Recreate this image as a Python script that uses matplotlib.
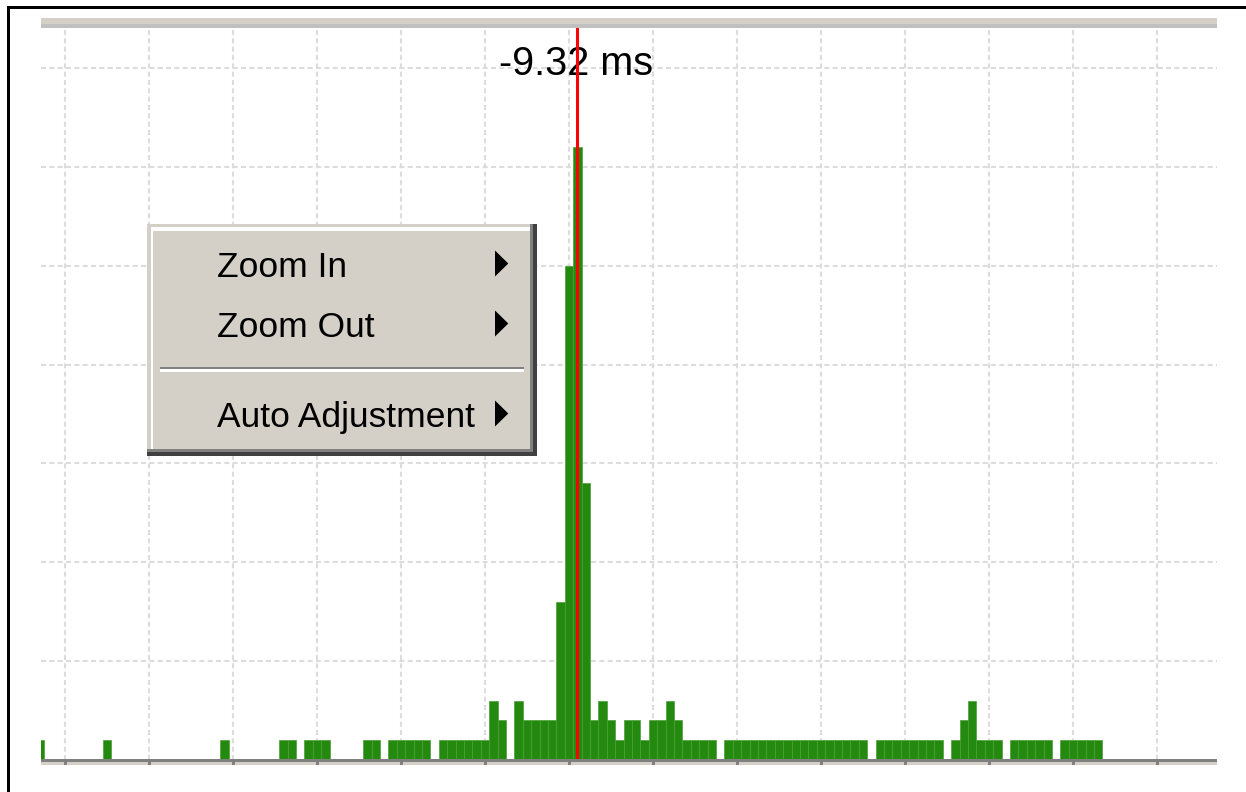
import matplotlib
matplotlib.use("Agg")
import matplotlib.pyplot as plt
from matplotlib.patches import Rectangle, Polygon
import matplotlib.transforms as mtransforms

W, H = 1246, 792

# ---------------- data ----------------
bin_pos = [4, 12, 26, 33, 34, 36, 37, 38, 43, 44, 46, 47, 48, 49, 50,
           52, 53, 54, 55, 56, 57, 58, 59, 61, 62, 63, 64, 65, 66, 67, 68, 69,
           70, 71, 72, 73, 74, 75, 76, 77, 78, 79, 80, 81, 82, 83, 84,
           86, 87, 88, 89, 90, 91, 92, 93, 94, 95, 96, 97, 98, 99, 100, 101, 102,
           104, 105, 106, 107, 108, 109, 110, 111,
           113, 114, 115, 116, 117, 118,
           120, 121, 122, 123, 124,
           126, 127, 128, 129, 130]
counts = [1, 1, 1, 1, 1, 1, 1, 1, 1, 1, 1, 1, 1, 1, 1,
          1, 1, 1, 1, 1, 1, 3, 2, 3, 2, 2, 2, 2, 8, 25, 31, 14,
          2, 3, 2, 1, 2, 2, 1, 2, 2, 3, 2, 1, 1, 1, 1,
          1, 1, 1, 1, 1, 1, 1, 1, 1, 1, 1, 1, 1, 1, 1, 1, 1,
          1, 1, 1, 1, 1, 1, 1, 1,
          1, 2, 3, 1, 1, 1,
          1, 1, 1, 1, 1,
          1, 1, 1, 1, 1]
x_range = (4.631, 144.631)
y_max = 37.03
x_grid = [7.5 + 10 * j for j in range(14)]
y_grid = [5, 10, 15, 20, 25, 30, 35]
cursor_x = 68.48
cursor_label = "-9.32 ms"
menu_items = ["Zoom In", "Zoom Out", "Auto Adjustment"]

FONT = ["Liberation Sans", "DejaVu Sans"]

fig = plt.figure(figsize=(W / 100, H / 100), dpi=100)
fig.patch.set_facecolor("white")


def fx(x):
    return x / W


def fy(y):
    return 1 - y / H


def px_rect(x0, y0, x1, y1, color, z=5):
    fig.add_artist(Rectangle((fx(x0), fy(y1)), (x1 - x0) / W, (y1 - y0) / H,
                             transform=fig.transFigure, facecolor=color,
                             edgecolor="none", zorder=z))


ax = fig.add_axes([fx(41), fy(760), 1176 / W, 732 / H])
ax.set_xlim(*x_range)
ax.set_ylim(0, y_max)
for s in ax.spines.values():
    s.set_visible(False)
ax.set_xticks([])
ax.set_yticks([])
ax.patch.set_alpha(0)

grid_kw = dict(color="#DCDCDC", lw=1.5, dashes=(2.4, 1.6), zorder=0.5)
for g in x_grid:
    ax.axvline(g, **grid_kw)
for g in y_grid:
    ax.axhline(g, **grid_kw)

ax.bar(bin_pos, counts, width=1, align="edge", color="#238A0F",
       edgecolor="#4C9E38", linewidth=0.5, zorder=2)

ax.text(cursor_x - 0.1, (760 - 75) / (732 / y_max), cursor_label, ha="center",
        va="baseline", fontsize=28.5, family=FONT, color="black", zorder=3)
ax.axvline(cursor_x, color="#FF0000", lw=2.2, zorder=4)

# top band
px_rect(41, 18, 1217, 24, "#D4D0C8")
px_rect(41, 24, 1217, 28, "#C0C0C0")
# bottom axis line and band
px_rect(41, 759, 1217, 762, "#808080")
px_rect(41, 762, 1217, 765, "#D4D0C8")
btr = mtransforms.blended_transform_factory(ax.transData, fig.transFigure)
for g in x_grid:
    fig.add_artist(Rectangle((g - 1.5 / 8.4, fy(765)), 3 / 8.4, 3 / H,
                             transform=btr, facecolor="#808080",
                             edgecolor="none", zorder=6))

# frame lines
px_rect(7, 6, W, 8.5, "black", 7)
px_rect(7, 6, 9.5, H, "black", 7)

# context menu
px_rect(147, 224, 536.7, 455.7, "#404040", 10)
px_rect(147, 224, 533.3, 452.3, "#808080", 11)
px_rect(147, 224, 530, 449.3, "#D4D0C8", 12)
px_rect(150.7, 227.5, 530, 449.3, "white", 13)
px_rect(153, 230.5, 530, 449.3, "#D4D0C8", 14)
# separator
px_rect(160, 366.7, 524, 369.3, "#808080", 15)
px_rect(160, 369.3, 524, 372, "white", 15)

baselines = [277, 337, 427]
for label, yb in zip(menu_items, baselines):
    fig.text(fx(217.3), fy(yb), label, ha="left", va="baseline",
             fontsize=25.5, family=FONT, color="black", zorder=16)
    yc = yb - 13.5
    fig.add_artist(Polygon([(fx(495), fy(yc - 13)), (fx(495), fy(yc + 13)),
                            (fx(508.3), fy(yc))], closed=True,
                           transform=fig.transFigure, facecolor="black",
                           edgecolor="none", zorder=16))

fig.savefig("out.png", dpi=100)
